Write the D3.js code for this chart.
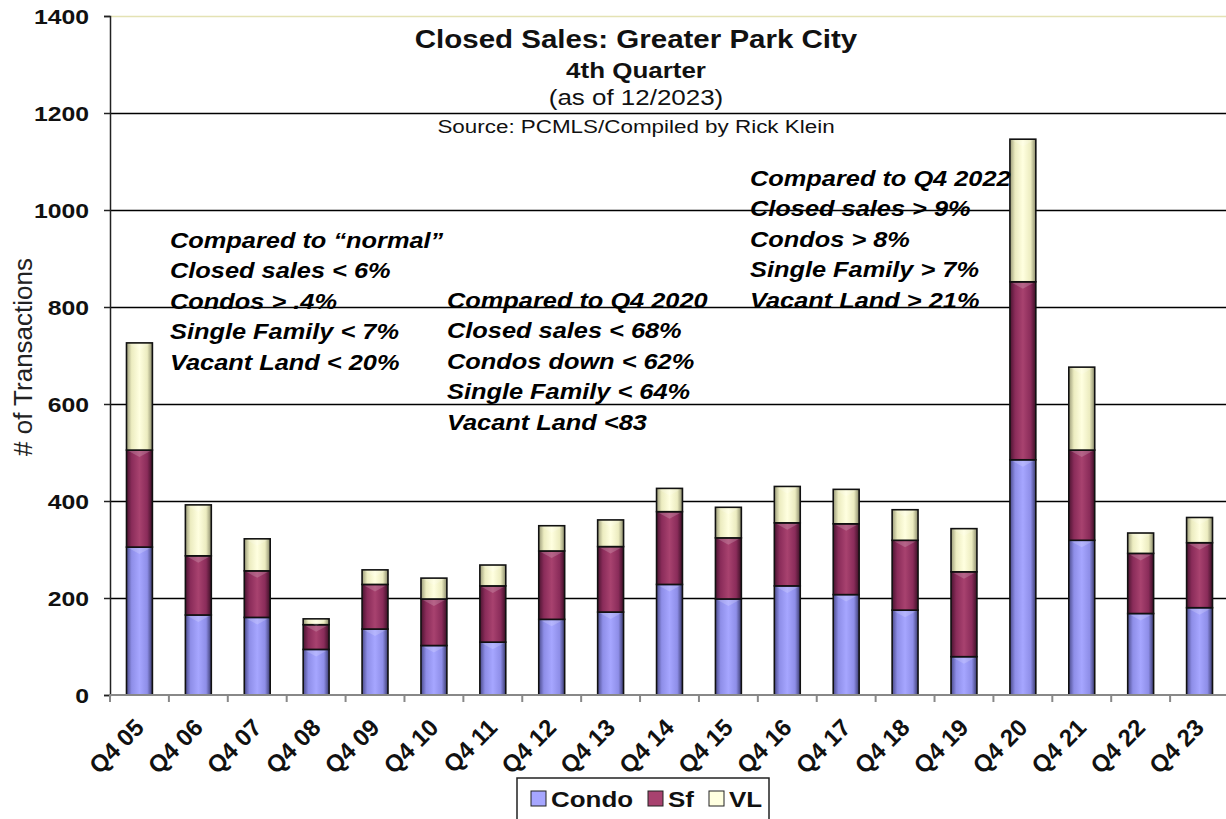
<!DOCTYPE html>
<html lang="en">
<head>
  <meta charset="UTF-8">
  <title>Closed Sales: Greater Park City</title>
  <style>
    body { margin: 0; background: #fff; }
    svg { display: block; font-family: "Liberation Sans", Arial, sans-serif; }
  </style>
</head>
<body>
<div id="chart"></div>
<script src="https://d3js.org/d3.v7.min.js"></script>
<script>
  const quarters = ['Q4 05', 'Q4 06', 'Q4 07', 'Q4 08', 'Q4 09', 'Q4 10', 'Q4 11', 'Q4 12', 'Q4 13', 'Q4 14',
                    'Q4 15', 'Q4 16', 'Q4 17', 'Q4 18', 'Q4 19', 'Q4 20', 'Q4 21', 'Q4 22', 'Q4 23'];
  const condo = [305, 165, 160, 94, 136, 102, 109, 156, 171, 228, 198, 225, 207, 175, 79, 485, 319, 168, 180];
  const sf    = [200, 122, 96, 51, 92, 96, 116, 141, 135, 150, 126, 130, 146, 144, 175, 367, 186, 124, 134];
  const vl    = [221, 105, 66, 12, 30, 43, 43, 52, 55, 48, 63, 75, 71, 63, 89, 294, 171, 42, 52];
  const seriesNames = ['Condo', 'Sf', 'VL'];
  const yTicks = [0, 200, 400, 600, 800, 1000, 1200, 1400];

  const notes = [
    { x: 170, y: 248, lines: ['Compared to \u201cnormal\u201d', 'Closed sales < 6%', 'Condos > .4%', 'Single Family < 7%', 'Vacant Land < 20%'] },
    { x: 447, y: 308, lines: ['Compared to Q4 2020', 'Closed sales < 68%', 'Condos down < 62%', 'Single Family < 64%', 'Vacant Land <83'] },
    { x: 750, y: 186, lines: ['Compared to Q4 2022', 'Closed sales > 9%', 'Condos > 8%', 'Single Family > 7%', 'Vacant Land > 21%'] }
  ];

  const width = 1226, height = 819;
  const plotLeft = 110, plotRight = 1229, plotTop = 16, plotBottom = 695;
  const sx = 1.18; // the original picture is stretched sideways

  const svg = d3.select('#chart').append('svg')
    .attr('width', width)
    .attr('height', height);

  const defs = svg.append('defs');
  const palette = {
    Condo: ['#4a4a8a', '#8e8ee8', '#a6a6ff', '#8e8ee8', '#3a3a6e'],
    Sf:    ['#4a1430', '#8a2c5a', '#a8426f', '#8a2c5a', '#3c1026'],
    VL:    ['#9a9a78', '#ececc0', '#ffffe0', '#ececc0', '#8a8a6a']
  };
  seriesNames.forEach(name => {
    const g = defs.append('linearGradient').attr('id', 'grad-' + name)
      .attr('x1', 0).attr('x2', 1).attr('y1', 0).attr('y2', 0);
    [0, 0.2, 0.5, 0.8, 1].forEach((o, i) => {
      g.append('stop').attr('offset', o).attr('stop-color', palette[name][i]);
    });
  });

  const x = d3.scaleBand().domain(quarters).range([plotLeft, plotRight]).paddingInner(0.56).paddingOuter(0.28);
  const y = d3.scaleLinear().domain([0, 1400]).range([plotBottom, plotTop]);

  // gridlines
  svg.append('g')
    .selectAll('line')
    .data(yTicks.filter(d => d > 0))
    .enter().append('line')
    .attr('x1', plotLeft).attr('x2', width)
    .attr('y1', d => Math.round(y(d)) + 0.5).attr('y2', d => Math.round(y(d)) + 0.5)
    .attr('stroke', d => d === 1400 ? '#e4e2b4' : '#000')
    .attr('stroke-width', 1.5);

  // titles
  const titles = [
    { t: 'Closed Sales: Greater Park City', y: 48, size: 25, weight: 'bold' },
    { t: '4th Quarter', y: 78, size: 22, weight: 'bold' },
    { t: '(as of 12/2023)', y: 105, size: 22, weight: 'normal' },
    { t: 'Source: PCMLS/Compiled by Rick Klein', y: 133, size: 19, weight: 'normal' }
  ];
  svg.append('g').selectAll('text')
    .data(titles)
    .enter().append('text')
    .attr('transform', d => `translate(636,${d.y}) scale(${sx},1)`)
    .attr('text-anchor', 'middle')
    .style('font-size', d => d.size + 'px')
    .style('font-weight', d => d.weight)
    .attr('fill', '#111')
    .text(d => d.t);

  // stacked bars
  const rows = quarters.map((q, i) => ({ q: q, Condo: condo[i], Sf: sf[i], VL: vl[i] }));
  const stacked = d3.stack().keys(seriesNames)(rows);

  const layers = svg.append('g').selectAll('g')
    .data(stacked)
    .enter().append('g')
    .attr('fill', d => `url(#grad-${d.key})`);

  layers.selectAll('rect')
    .data(d => d)
    .enter().append('rect')
    .attr('x', d => x(d.data.q))
    .attr('y', d => y(d[1]))
    .attr('width', x.bandwidth())
    .attr('height', d => y(d[0]) - y(d[1]))
    .attr('stroke', '#111')
    .attr('stroke-width', 1.6);

  // small bevel chevron at the top of each segment
  layers.selectAll('path')
    .data(d => d)
    .enter().append('path')
    .attr('d', d => {
      const x0 = x(d.data.q), w = x.bandwidth(), yt = y(d[1]);
      return `M${x0 + 2},${yt + 1} L${x0 + w - 2},${yt + 1} L${x0 + w / 2},${yt + 7} Z`;
    })
    .attr('fill', '#fff')
    .attr('opacity', 0.18);

  // y axis
  const yAxis = svg.append('g')
    .attr('transform', `translate(${plotLeft},0)`)
    .call(d3.axisLeft(y).tickValues(yTicks).tickSize(6).tickFormat(d3.format('d')));
  yAxis.select('.domain').attr('stroke', '#222').attr('stroke-width', 1.5);
  yAxis.selectAll('.tick line').attr('stroke', '#222').attr('stroke-width', 1.5);
  yAxis.selectAll('.tick text')
    .attr('x', -21 / sx)
    .attr('dy', '0.36em')
    .attr('transform', `scale(${sx},1)`)
    .attr('fill', '#111')
    .style('font-size', '21px')
    .style('font-weight', 'bold')
    .style('font-family', '"Liberation Sans", Arial, sans-serif');

  // x axis
  const xAxis = svg.append('g').attr('transform', `translate(0,${plotBottom})`);
  xAxis.append('line')
    .attr('x1', plotLeft).attr('x2', width)
    .attr('stroke', '#888').attr('stroke-width', 2);
  const step = x.step();
  xAxis.selectAll('.xt')
    .data(quarters)
    .enter().append('line')
    .attr('class', 'xt')
    .attr('x1', d => x(d) - (step - x.bandwidth()) / 2)
    .attr('x2', d => x(d) - (step - x.bandwidth()) / 2)
    .attr('y1', 0).attr('y2', 7)
    .attr('stroke', '#888').attr('stroke-width', 2);
  xAxis.selectAll('text')
    .data(quarters)
    .enter().append('text')
    .attr('transform', d => `translate(${x(d) + x.bandwidth() / 2 + 6},${34}) rotate(-45)`)
    .attr('text-anchor', 'end')
    .attr('fill', '#111')
    .style('font-size', '24px')
    .style('font-weight', 'bold')
    .text(d => d);

  // y title
  svg.append('text')
    .attr('transform', 'translate(32,357) rotate(-90)')
    .attr('text-anchor', 'middle')
    .attr('fill', '#222')
    .style('font-size', '26px')
    .text('# of Transactions');

  // annotations
  notes.forEach(n => {
    svg.append('g')
      .attr('transform', `translate(${n.x},${n.y}) scale(${sx},1)`)
      .selectAll('text')
      .data(n.lines)
      .enter().append('text')
      .attr('y', (d, i) => i * 30.5)
      .attr('fill', '#000')
      .style('font-size', '21.5px')
      .style('font-weight', 'bold')
      .style('font-style', 'italic')
      .text(d => d);
  });

  // legend
  const legend = svg.append('g').attr('transform', 'translate(517,778)');
  legend.append('rect')
    .attr('width', 252).attr('height', 50)
    .attr('fill', '#fff').attr('stroke', '#222').attr('stroke-width', 1.5);
  const legendX = [14, 131, 192];
  const items = legend.selectAll('g')
    .data(seriesNames)
    .enter().append('g')
    .attr('transform', (d, i) => `translate(${legendX[i]},13)`);
  items.append('rect')
    .attr('width', 15).attr('height', 15)
    .attr('fill', d => palette[d][2])
    .attr('stroke', '#222').attr('stroke-width', 1);
  items.append('text')
    .attr('transform', `translate(20,16) scale(${sx},1)`)
    .attr('fill', '#111')
    .style('font-size', '22px')
    .style('font-weight', 'bold')
    .text(d => d);
</script>
</body>
</html>
